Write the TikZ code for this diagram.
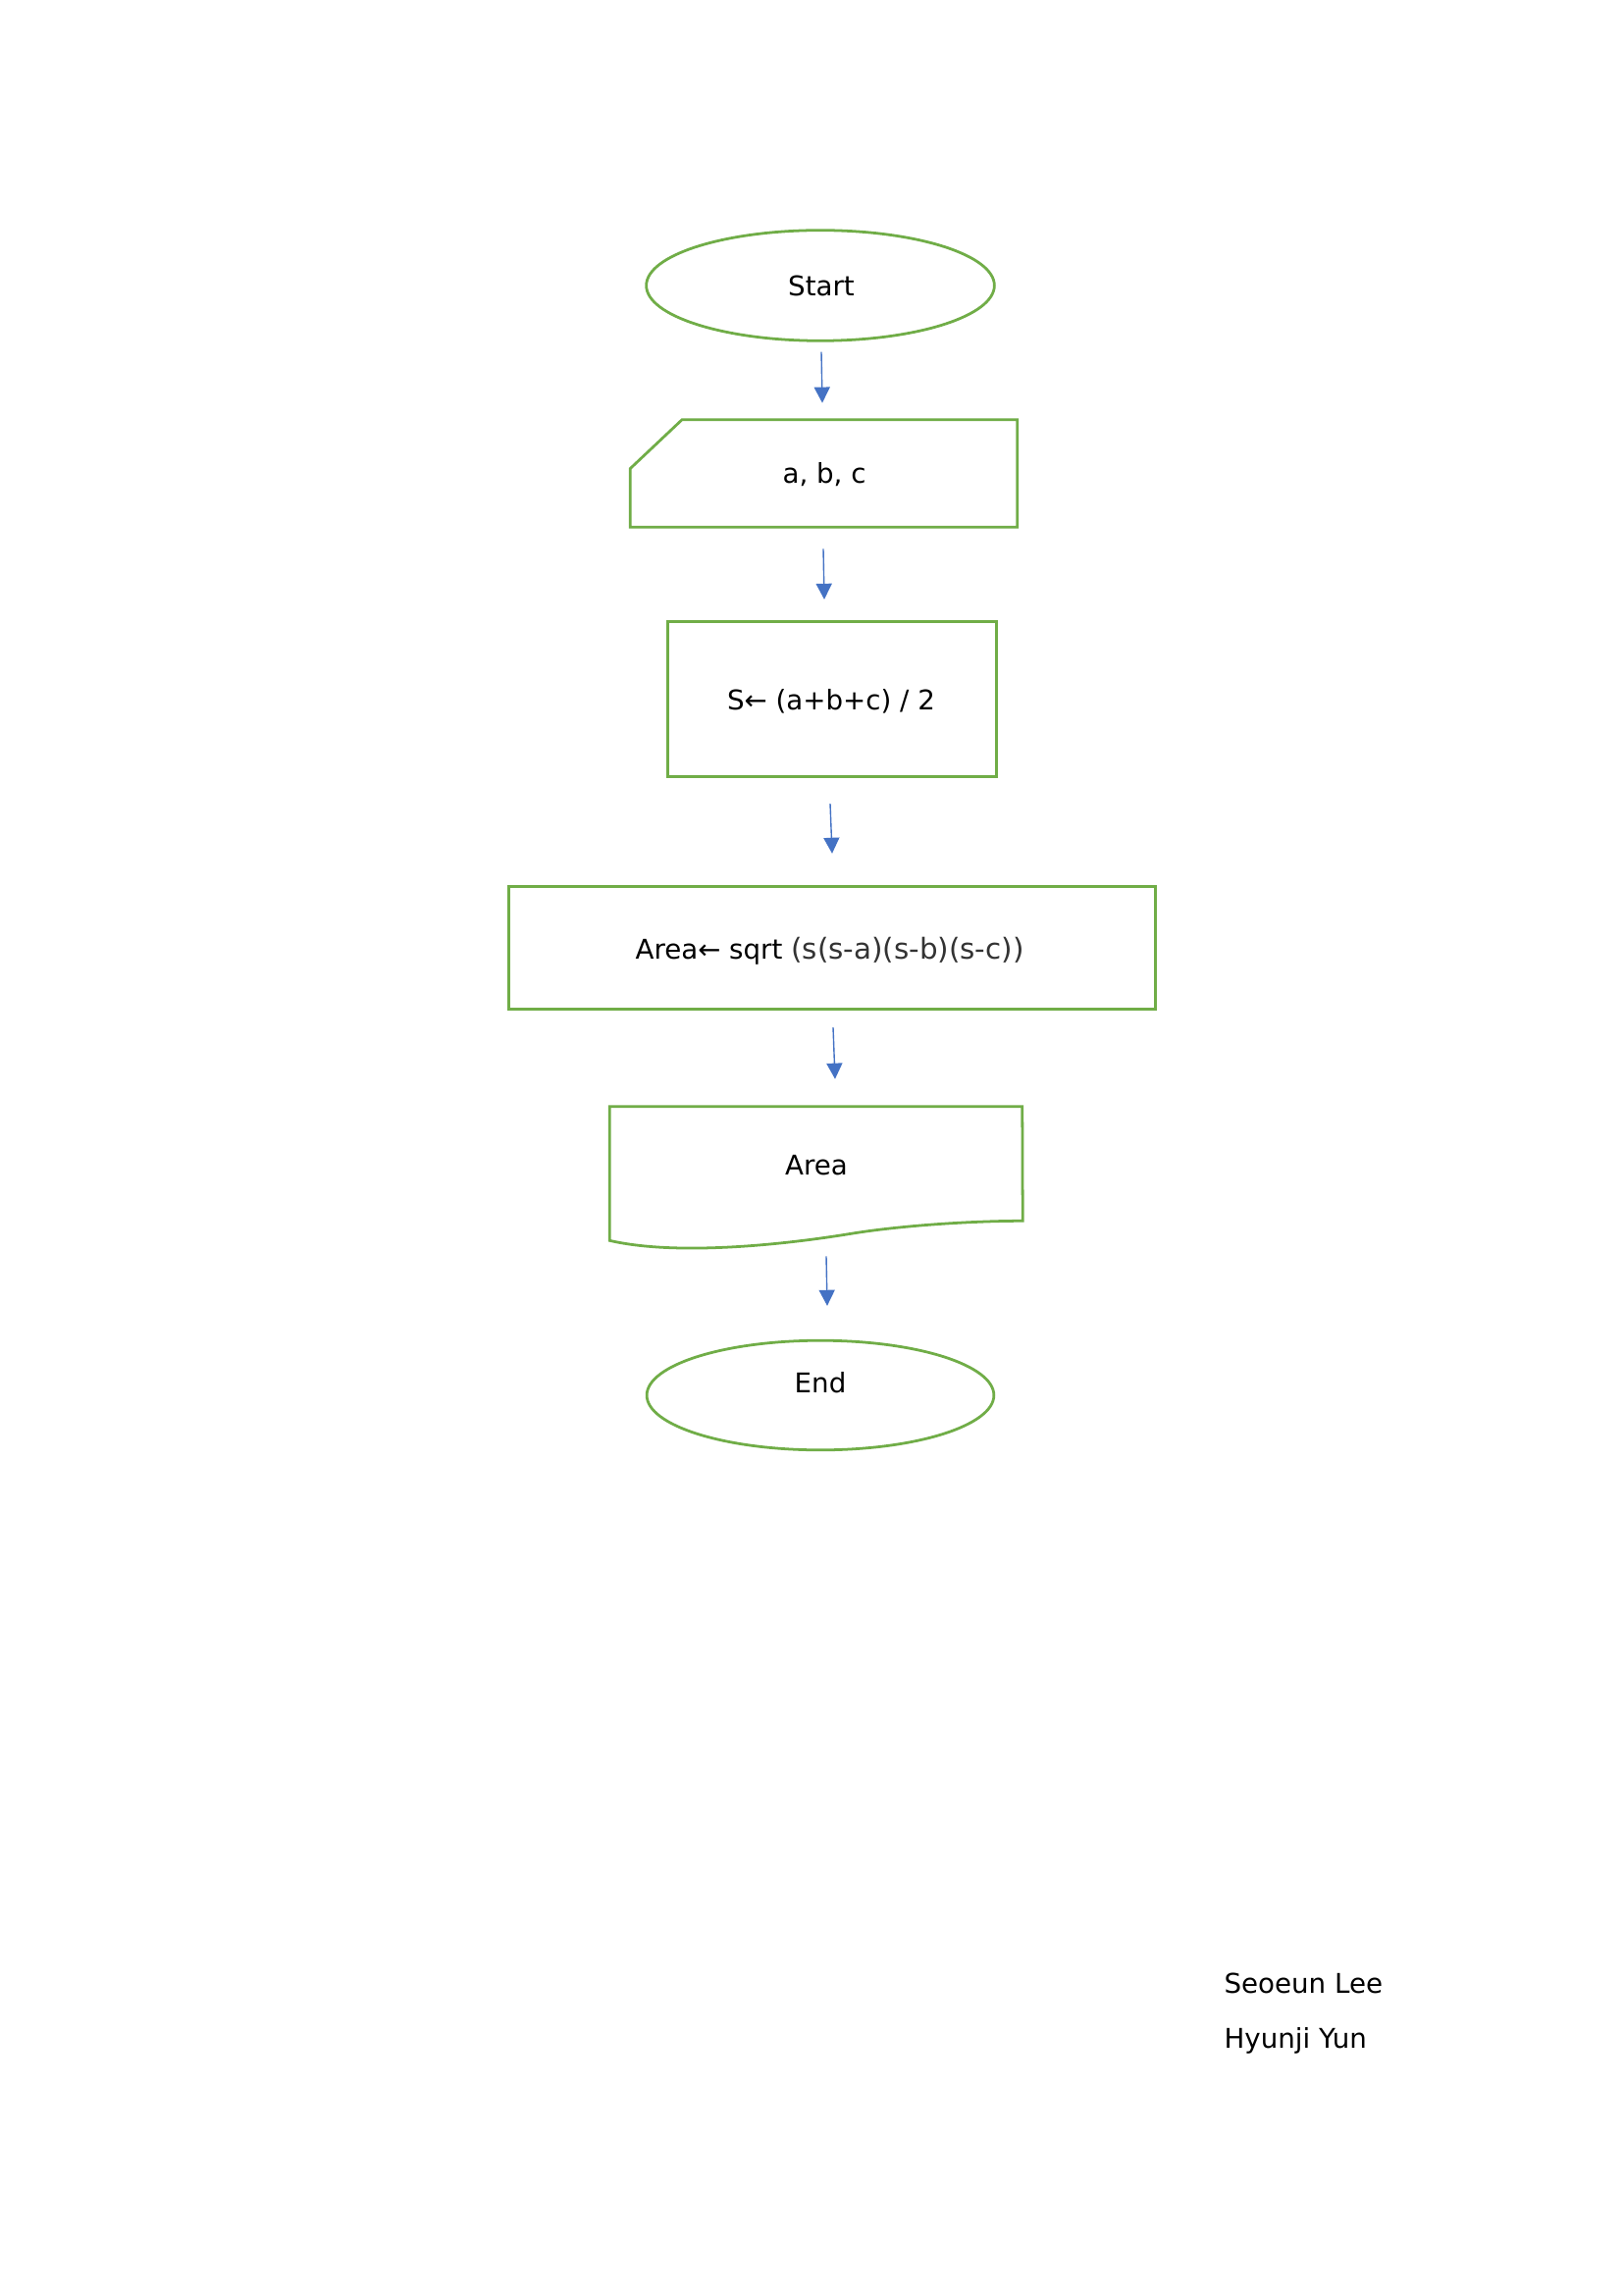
\documentclass[tikz,border=0pt]{standalone}
\usepackage{fontspec}
\setmainfont{DejaVu Sans}
\usetikzlibrary{arrows.meta,calc,shapes.geometric}
\newdimen\PXu \PXu=0.35989pt
\definecolor{fgreen}{HTML}{70AD47}
\definecolor{fblue}{HTML}{4472C4}
\begin{document}
\begin{tikzpicture}[x=0.12696mm,y=-0.12696mm,
  outline/.style={draw=fgreen,line width=1pt,inner sep=0pt},
  ghost/.style={draw=none,inner sep=0pt},
  txt/.style={inner sep=0pt,anchor=base,font=\fontsize{10pt}{12pt}\selectfont},
  arr/.style={draw=fblue,line width=0.5pt,-{Triangle[length=5.8pt,width=5.8pt]}}]
\useasboundingbox[fill=white] (0,0) rectangle (1654,2339);
% shapes
\node[outline,ellipse,minimum width=356*\PXu,minimum height=113*\PXu] (start) at (836,291) {};
\node[ghost,rectangle,minimum width=395*\PXu,minimum height=109*\PXu] (inp) at (839.5,482.5) {};
\draw[fgreen,line width=1pt,line join=miter] ($(inp.north west)+(53,0)$) -- (inp.north east) -- (inp.south east) -- (inp.south west) -- ($(inp.north west)+(0,50)$) -- cycle;
\node[outline,rectangle,minimum width=336*\PXu,minimum height=159*\PXu] (sbox) at (848,712.5) {};
\node[outline,rectangle,minimum width=662*\PXu,minimum height=126*\PXu] (abox) at (848,966) {};
\node[ghost,rectangle,minimum width=421*\PXu,minimum height=136*\PXu] (doc) at (831.5,1196) {};
\draw[fgreen,line width=1pt,line join=miter] (doc.north west) -- (doc.north east) -- ($(doc.south west)+(421,-20)$)
  .. controls ($(doc.south west)+(369,-20)$) and ($(doc.south west)+(296,-15.2)$) .. ($(doc.south west)+(246,-7)$)
  .. controls ($(doc.south west)+(179,4)$) and ($(doc.south west)+(69,16)$) .. (doc.south west) -- cycle;
\node[outline,ellipse,minimum width=355*\PXu,minimum height=112*\PXu] (end) at (836,1422) {};
% texts
\node[txt] (tstart) at (837,302) {Start};
\node[txt] (tinp) at (840,493) {a, b, c};
\node[txt] (ts) at (847,723) {S← (a+b+c) / 2};
\node[txt,anchor=base west] (ta) at (647,977) {Area← sqrt {\fontsize{10.6pt}{12pt}\selectfont\color{black!80}(s(s-a)(s-b)(s-c))}};
\node[txt] (tdoc) at (832,1197) {Area};
\node[txt] (tend) at (836,1419) {End};
\node[txt,anchor=base west] (n1) at (1247,2031) {Seoeun Lee};
\node[txt,anchor=base west] (n2) at (1247,2087) {Hyunji Yun};
% connectors
\draw[arr] ($(start.south)+(1,10)$) -- ($(inp.north)+(-1.5,-17)$);
\draw[arr] ($(inp.south)+(-0.5,22)$) -- ($(sbox.north)+(-8,-21)$);
\draw[arr] ($(sbox.south)+(-2,26)$) -- ($(abox.north)+(0,-32)$);
\draw[arr] ($(abox.south)+(1,17)$) -- ($(doc.north)+(19.5,-28)$);
\draw[arr] ($(doc.south)+(10.5,16)$) -- ($(end.north)+(7,-34)$);
\end{tikzpicture}
\end{document}
